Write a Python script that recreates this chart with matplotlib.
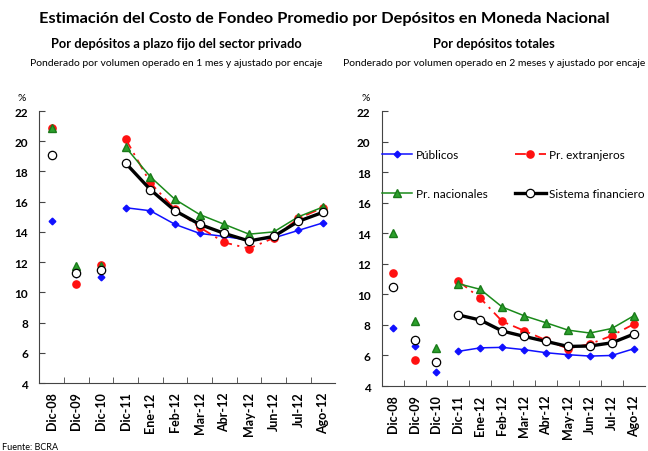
import numpy as np
import matplotlib.pyplot as plt

plt.rcParams['font.family'] = ['Lato', 'DejaVu Sans']

meses = ['Dic-08', 'Dic-09', 'Dic-10', 'Dic-11', 'Ene-12', 'Feb-12',
         'Mar-12', 'Abr-12', 'May-12', 'Jun-12', 'Jul-12', 'Ago-12']

# plazo fijo sector privado
pf_publicos = [14.7, 11.2, 11.0, 15.6, 15.4, 14.5, 13.9, 13.7, 13.45, 13.6, 14.1, 14.6]
pf_extranjeros = [20.9, 10.55, 11.8, 20.15, 17.25, 15.5, 14.3, 13.3, 12.9, 13.6, 14.9, 15.6]
pf_nacionales = [20.9, 11.75, 11.75, 19.6, 17.65, 16.15, 15.15, 14.5, 13.85, 14.0, 15.0, 15.65]
pf_sistema = [19.1, 11.3, 11.5, 18.55, 16.8, 15.4, 14.5, 13.9, 13.4, 13.7, 14.7, 15.3]

# depositos totales
tot_publicos = [7.8, 6.6, 4.9, 6.27, 6.5, 6.53, 6.38, 6.18, 6.05, 5.96, 6.0, 6.44]
tot_extranjeros = [11.38, 5.72, 5.57, 10.87, 9.75, 8.23, 7.62, 7.0, 6.45, 6.75, 7.3, 8.05]
tot_nacionales = [14.02, 8.25, 6.48, 10.7, 10.33, 9.17, 8.6, 8.14, 7.66, 7.47, 7.77, 8.6]
tot_sistema = [10.46, 6.99, 5.57, 8.65, 8.32, 7.6, 7.25, 6.92, 6.59, 6.62, 6.83, 7.4]

fig = plt.figure(figsize=(6.48, 4.52), dpi=100)

estilos = [
    dict(color='#1010ff', marker='D', ms=3.4, lw=1.1, ls='-', mfc='#1010ff', mec='#1010ff', label='Públicos'),
    dict(color='#ff1010', marker='o', ms=5.2, lw=1.3, ls=(0, (6, 3, 1.2, 3)), mfc='#ff1010', mec='#ff1010', label='Pr. extranjeros'),
    dict(color='#1a8a1a', marker='^', ms=5.8, lw=1.1, ls='-', mfc='#2ca02c', mec='#1a7a1a', label='Pr. nacionales'),
    dict(color='black', marker='o', ms=6, lw=2.4, ls='-', mfc='white', mec='black', mew=0.9, label='Sistema financiero'),
]


def panel(rect, series, titulo, nota, tx, legend=False):
    ax = fig.add_axes(rect)
    x = np.arange(len(meses))
    lineas = []
    for vals, st in zip(series, estilos):
        v = np.array(vals)
        sin_linea = dict(st)
        sin_linea['ls'] = 'none'
        sin_linea.pop('label')
        ax.plot(x[:3], v[:3], **sin_linea)
        lineas += ax.plot(x[3:], v[3:], **st)
    ax.set_xlim(-0.5, 11.5)
    ax.set_ylim(4, 22)
    ax.set_yticks(np.arange(4, 23, 2))
    ax.set_xticks(x)
    ax.set_xticklabels(meses, rotation=90, fontsize=9, fontweight='bold')
    ax.set_xticks(np.arange(0.5, 11.5, 1), minor=True)
    ax.tick_params(axis='x', which='major', length=0, pad=6)
    ax.tick_params(axis='x', which='minor', length=4, direction='in', color='#444444')
    ax.tick_params(axis='y', direction='in', length=4, color='#444444', pad=8, labelsize=8.5)
    for lab in ax.get_yticklabels():
        lab.set_fontweight('bold')
    for s in ['top', 'right']:
        ax.spines[s].set_visible(False)
    for s in ['left', 'bottom']:
        ax.spines[s].set_color('#444444')
    ax.text(-0.06, 1.04, '%', transform=ax.transAxes, fontsize=7.5, ha='center')
    fig.text(tx, 0.893, titulo, fontsize=9.3, fontweight='bold', ha='center')
    fig.text(tx, 0.853, nota, fontsize=7.5, ha='center')
    if legend:
        orden = [lineas[0], lineas[2], lineas[1], lineas[3]]
        ax.legend(orden, [h.get_label() for h in orden], ncol=2, loc='upper left',
                  bbox_to_anchor=(0.0, 0.862), frameon=False, fontsize=8.5,
                  handlelength=2.6, handletextpad=0.3, columnspacing=2.3,
                  labelspacing=2.4, borderaxespad=0, borderpad=0)
    return ax


panel([0.0606, 0.1504, 0.457, 0.6018],
      [pf_publicos, pf_extranjeros, pf_nacionales, pf_sistema],
      'Por depósitos a plazo fijo del sector privado',
      'Ponderado por volumen operado en 1 mes y ajustado por encaje', 0.272)
panel([0.589, 0.1438, 0.406, 0.608],
      [tot_publicos, tot_extranjeros, tot_nacionales, tot_sistema],
      'Por depósitos totales',
      'Ponderado por volumen operado en 2 meses y ajustado por encaje', 0.762, legend=True)

fig.text(0.5, 0.95, 'Estimación del Costo de Fondeo Promedio por Depósitos en Moneda Nacional',
         fontsize=11.8, fontweight='bold', ha='center')
fig.text(0.003, 0.005, 'Fuente: BCRA', fontsize=6.5)

fig.savefig('out.png', dpi=100)
